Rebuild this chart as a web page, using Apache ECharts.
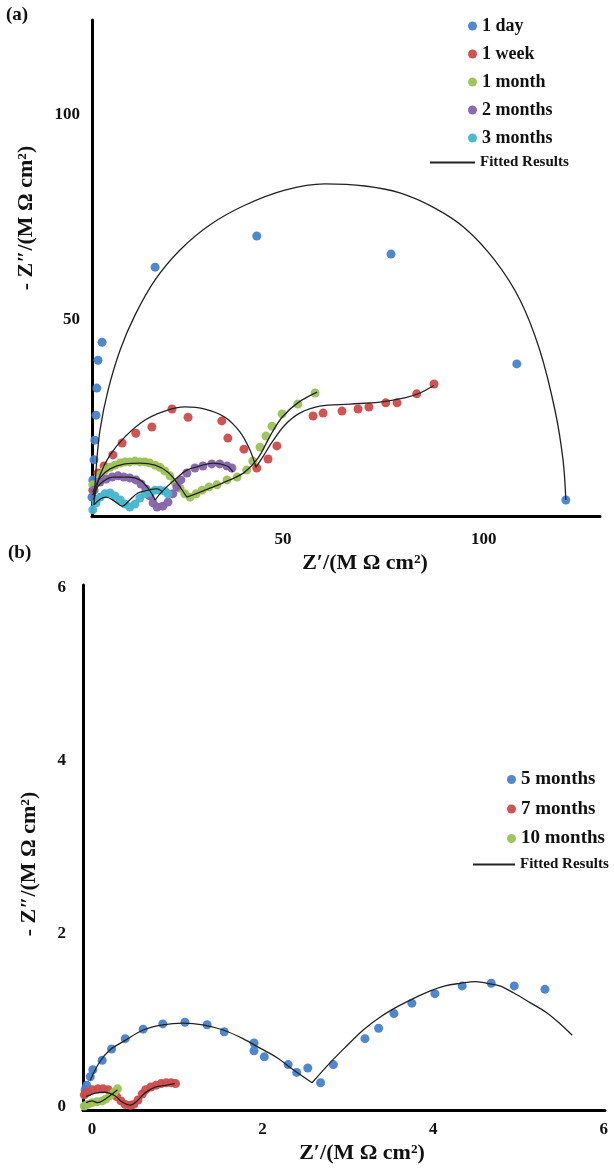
<!DOCTYPE html>
<html><head><meta charset="utf-8">
<script src="https://cdn.jsdelivr.net/npm/echarts@6/dist/echarts.min.js"></script>
<style>html,body{margin:0;padding:0;background:#fff}#c{width:614px;height:1169px}</style>
</head><body><div id="c"></div><script>
// ---------- Panel (a) data: [Z', -Z''] in M Ohm cm2 ----------
var day1 = [[2.5,6.8],[2.7,11.0],[3.0,15.9],[3.2,20.7],[3.5,26.8],[3.7,33.4],[4.0,40.2],[5.0,44.6],
  [18.2,62.9],[43.5,70.5],[76.9,66.1],[108.2,39.3],[120.4,6.1]];
var week1 = [[2.7,8.5],[4.0,12.7],[5.5,14.4],[7.7,17.1],[10.0,20.0],[13.4,22.4],[17.4,23.9],[22.4,28.3],
  [26.4,26.3],[34.8,25.4],[36.3,21.2],[40.3,18.5],[43.5,13.9],[46.3,16.1],[48.5,19.3],[57.5,26.6],
  [60.0,27.3],[64.7,27.8],[68.7,28.3],[71.4,28.8],[75.6,29.8],[78.4,29.8],[83.3,32.0],[87.6,34.4]];
var month1 = [[2.7,9.8],[4.5,12.2],[5.7,13.4],[7.0,14.1],[8.2,14.6],[9.5,15.1],[10.7,15.4],[11.9,15.4],
  [13.2,15.6],[14.4,15.4],[15.7,15.4],[16.9,15.1],[18.2,14.6],[19.4,14.1],[20.6,13.2],[21.9,12.0],
  [23.1,10.5],[24.4,9.0],[25.6,7.6],[26.9,6.8],[28.4,7.6],[29.9,8.5],[31.6,9.3],[33.6,9.8],[36.1,11.0],
  [38.6,11.7],[41.0,13.4],[42.5,15.6],[44.3,19.0],[45.8,21.7],[47.3,24.1],[49.8,27.1],[53.7,29.5],[58.0,32.2]];
var months2 = [[3.0,8.5],[4.5,10.5],[6.0,11.2],[7.5,11.7],[9.0,12.0],[10.4,11.7],[11.9,11.5],[13.4,11.0],
  [14.7,10.0],[15.9,8.8],[16.9,7.1],[17.7,5.4],[18.7,4.4],[20.1,4.6],[21.4,5.6],[22.6,7.6],[23.6,9.3],
  [24.6,11.0],[26.1,12.7],[28.1,13.9],[30.1,14.4],[32.3,14.9],[34.3,14.9],[36.1,14.4],[37.3,13.9]];
var months3 = [[2.7,3.7],[3.5,5.4],[4.5,6.8],[5.7,7.6],[7.0,7.8],[8.2,7.1],[9.5,6.1],[10.7,5.1],[11.9,4.4],
  [13.2,5.1],[14.4,6.6],[15.7,7.6],[16.9,8.0],[18.2,8.5],[19.4,8.5],[20.6,8.3],[21.4,7.6]];
// fitted curves (a)
var fitDay1 = [[3.0,4.9],[3.5,13.4],[4.5,23.2],[6.5,32.9],[9.5,42.7],[13.2,51.2],[18.2,59.8],[24.4,67.1],
  [31.8,73.2],[40.5,78.0],[50.5,81.7],[60.4,83.2],[70.4,82.7],[79.1,81.0],[87.8,77.3],[95.3,72.4],
  [102.7,64.6],[109.0,54.9],[113.9,42.7],[117.7,28.0],[119.7,15.9],[120.4,6.1]];
var fitWeek1a = [[3.0,6.1],[4.5,12.2],[7.0,17.1],[10.7,21.5],[15.7,25.6],[20.6,27.8],[25.6,28.8],[30.6,28.3],
  [35.6,26.3],[39.3,22.7],[41.8,18.3],[43.3,14.1]];
var fitWeek1b = [[43.3,14.1],[44.8,16.3],[47.3,20.2],[50.5,24.4],[54.2,27.3],[59.2,29.0],[66.7,29.5],
  [74.1,30.0],[80.3,31.0],[84.1,32.2],[87.6,34.1]];
var fitMonth1a = [[2.7,8.0],[4.5,11.5],[7.0,13.7],[10.7,14.9],[14.4,15.1],[18.2,14.6],[21.4,12.9],[23.9,10.0],[26.1,6.8]];
var fitMonth1b = [[26.1,6.8],[29.4,8.0],[33.1,9.5],[36.8,11.0],[40.5,12.9],[43.8,16.3],[46.8,21.7],[49.8,26.3],[53.7,29.8],[58.5,32.4]];
var fitMonths2a = [[2.7,7.3],[4.5,10.0],[7.7,11.7],[11.9,11.7],[14.4,11.0],[16.2,9.3],[17.4,7.6],[18.2,6.1]];
var fitMonths2b = [[18.2,6.1],[19.4,7.6],[21.1,9.3],[23.6,11.5],[26.1,13.4],[29.4,14.4],[32.6,15.1],[36.1,14.4],[37.6,12.9]];
var fitMonths3 = [[3.0,4.9],[4.5,6.3],[6.0,6.8],[8.0,5.9],[10.0,4.6],[11.9,6.1],[13.9,7.8],[16.4,8.5],[18.7,8.8],[20.1,8.0]];

// ---------- Panel (b) data ----------
var months5 = [[-0.08,0.20],[-0.06,0.25],[-0.02,0.35],[0.01,0.43],[0.12,0.54],[0.23,0.67],[0.39,0.79],
  [0.60,0.90],[0.83,0.96],[1.09,0.98],[1.35,0.95],[1.55,0.87],[1.90,0.74],[1.90,0.65],[2.02,0.58],
  [2.30,0.49],[2.40,0.40],[2.53,0.45],[2.68,0.28],[2.83,0.49],[3.20,0.79],[3.36,0.91],[3.54,1.08],
  [3.75,1.20],[4.02,1.31],[4.34,1.40],[4.68,1.43],[4.95,1.40],[5.31,1.36]];
var months7 = [[-0.09,0.14],[-0.05,0.17],[0.01,0.20],[0.07,0.21],[0.13,0.21],[0.19,0.20],[0.25,0.16],
  [0.29,0.12],[0.34,0.07],[0.39,0.03],[0.45,0.02],[0.49,0.03],[0.54,0.08],[0.59,0.15],[0.63,0.20],
  [0.69,0.23],[0.75,0.25],[0.81,0.27],[0.87,0.28],[0.93,0.28],[0.98,0.27]];
var months10 = [[-0.09,0.01],[-0.05,0.03],[0.0,0.05],[0.06,0.06],[0.12,0.07],[0.16,0.09],[0.21,0.13],[0.26,0.17],[0.30,0.21]];
var fitMonths5a = [[-0.02,0.31],[0.09,0.52],[0.21,0.66],[0.39,0.77],[0.60,0.89],[0.83,0.95],[1.07,0.97],
  [1.30,0.95],[1.54,0.89],[1.77,0.79],[1.97,0.68],[2.17,0.57],[2.36,0.43],[2.58,0.28]];
var fitMonths5b = [[2.58,0.28],[2.79,0.51],[2.97,0.69],[3.18,0.89],[3.38,1.04],[3.58,1.16],[3.76,1.25],
  [3.96,1.34],[4.14,1.40],[4.32,1.43],[4.49,1.45],[4.63,1.43],[4.78,1.40],[4.94,1.32],[5.13,1.21],
  [5.33,1.09],[5.49,0.96],[5.63,0.83]];
var fitMonths7 = [[-0.07,0.12],[0.04,0.16],[0.15,0.17],[0.27,0.13],[0.35,0.06],[0.45,0.02],[0.53,0.07],
  [0.62,0.16],[0.74,0.23],[0.86,0.25],[0.97,0.27]];
var fitMonths10 = [[-0.07,0.05],[0.0,0.07],[0.07,0.05],[0.14,0.08],[0.21,0.13],[0.30,0.20]];

var ticksA = [50, 100];
var ticksB = [0, 2, 4, 6];
var namesA = ['1 day', '1 week', '1 month', '2 months', '3 months'];
var namesB = ['5 months', '7 months', '10 months'];
var fitName = 'Fitted Results';

var C = {blue:'#4682c9', red:'#cf4b4b', green:'#9cc255', purple:'#8463a9', cyan:'#45b5cd'};
var FONT = 'Liberation Serif';

var chart = echarts.init(document.getElementById('c'), null, {renderer:'canvas'});

function axisX(gi, min, max, ticks, margin){
  return {type:'value', gridIndex:gi, min:min, max:max,
    axisLine:{onZero:false, lineStyle:{color:'#000', width:3}},
    axisTick:{show:false}, splitLine:{show:false},
    axisLabel:{customValues:ticks, margin:margin, color:'#111', fontFamily:FONT, fontWeight:'bold', fontSize:17}};
}
function axisY(gi, min, max, ticks, margin){
  return {type:'value', gridIndex:gi, min:min, max:max,
    axisLine:{onZero:false, lineStyle:{color:'#000', width:3}},
    axisTick:{show:false}, splitLine:{show:false},
    axisLabel:{customValues:ticks, margin:margin, color:'#111', fontFamily:FONT, fontWeight:'bold', fontSize:17}};
}
function sc(name, data, color, gi){
  return {type:'scatter', name:name, data:data, xAxisIndex:gi, yAxisIndex:gi,
    symbolSize:9, itemStyle:{color:color, opacity:0.95}, z:2, clip:false};
}
function fit(data, gi){
  return {type:'line', name:fitName, data:data, xAxisIndex:gi, yAxisIndex:gi,
    showSymbol:false, symbol:'none', smooth:0.35, lineStyle:{color:'#222', width:1.3}, itemStyle:{color:'#222'}, z:5};
}

var legendText = {fontFamily:FONT, fontWeight:'bold', fontSize:18, color:'#111'};
var legendTextB = {fontFamily:FONT, fontWeight:'bold', fontSize:19, color:'#111'};
var legendTextSmall = {fontFamily:FONT, fontWeight:'bold', fontSize:15, color:'#111'};
var titleFont = 'bold 22px "Liberation Serif"';

var option = {
  animation:false,
  backgroundColor:'#fff',
  grid:[
    {left:92, top:20, width:508, height:496},
    {left:83, top:585, width:522, height:525}
  ],
  xAxis:[ axisX(0, 2.5, 128.9, ticksA, 15), axisX(1, -0.105, 6.014, ticksB, 11) ],
  yAxis:[ axisY(0, 2.2, 123.2, ticksA, 12), axisY(1, -0.035, 6.035, ticksB, 17) ],
  legend:[
    {data:namesA, orient:'vertical', left:463, top:12, itemWidth:9, itemHeight:9, itemGap:10,
      icon:'circle', textStyle:legendText, selectedMode:false},
    {data:[fitName], orient:'vertical', left:425, top:150, itemWidth:45, itemHeight:2, icon:'rect',
      textStyle:legendTextSmall, selectedMode:false},
    {data:namesB, orient:'vertical', left:502, top:765, itemWidth:9, itemHeight:9, itemGap:10.5,
      icon:'circle', textStyle:legendTextB, selectedMode:false},
    {data:[fitName], orient:'vertical', left:468, top:852, itemWidth:42, itemHeight:2, icon:'rect',
      textStyle:legendTextSmall, selectedMode:false}
  ],
  graphic:[
    {type:'text', left:6, top:6, style:{text:'(a)', font:'bold 19px "Liberation Serif"', fill:'#111'}},
    {type:'text', left:8, top:544, style:{text:'(b)', font:'bold 19px "Liberation Serif"', fill:'#111'}},
    {type:'text', x:365, y:563, style:{text:'Z\u2032/(M \u03A9 cm\u00B2)', font:titleFont, fill:'#111', align:'center', verticalAlign:'middle'}},
    {type:'text', x:362, y:1153, style:{text:'Z\u2032/(M \u03A9 cm\u00B2)', font:titleFont, fill:'#111', align:'center', verticalAlign:'middle'}},
    {type:'text', x:26, y:218, rotation:Math.PI/2, style:{text:'- Z\u2033/(M \u03A9 cm\u00B2)', font:titleFont, fill:'#111', align:'center', verticalAlign:'middle'}},
    {type:'text', x:29, y:864, rotation:Math.PI/2, style:{text:'- Z\u2033/(M \u03A9 cm\u00B2)', font:titleFont, fill:'#111', align:'center', verticalAlign:'middle'}}
  ],
  series:[
    sc(namesA[0], day1, C.blue, 0),
    sc(namesA[1], week1, C.red, 0),
    sc(namesA[2], month1, C.green, 0),
    sc(namesA[3], months2, C.purple, 0),
    sc(namesA[4], months3, C.cyan, 0),
    fit(fitDay1, 0), fit(fitWeek1a, 0), fit(fitWeek1b, 0), fit(fitMonth1a, 0), fit(fitMonth1b, 0),
    fit(fitMonths2a, 0), fit(fitMonths2b, 0), fit(fitMonths3, 0),
    sc(namesB[0], months5, C.blue, 1),
    sc(namesB[1], months7, C.red, 1),
    sc(namesB[2], months10, C.green, 1),
    fit(fitMonths5a, 1), fit(fitMonths5b, 1), fit(fitMonths7, 1), fit(fitMonths10, 1)
  ]
};
chart.setOption(option);
</script></body></html>
